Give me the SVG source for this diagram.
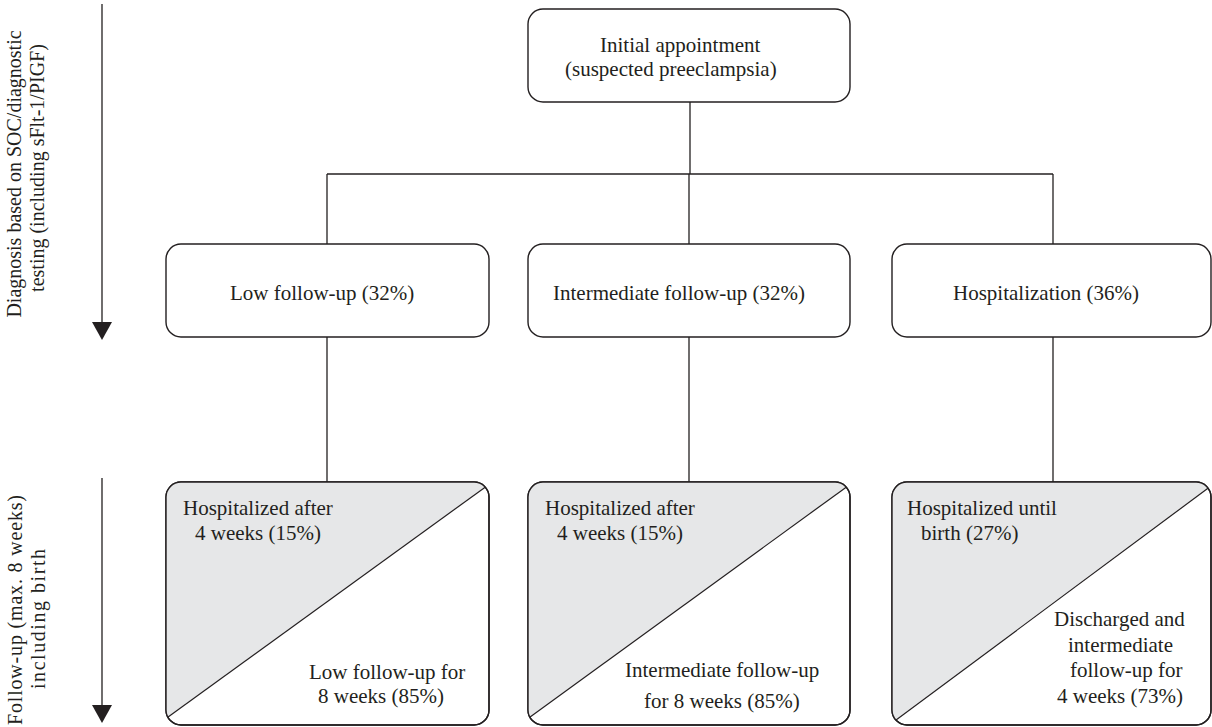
<svg xmlns="http://www.w3.org/2000/svg" width="1212" height="727" viewBox="0 0 1212 727">
<style>
text{font-family:"Liberation Serif","Times New Roman",serif;font-size:21px;fill:#231f20}
.side{font-size:20px}
.box{fill:#fff;stroke:#231f20;stroke-width:1.4}
.shade{fill:#e6e7e8}
.diag{stroke:#231f20;stroke-width:1.2;fill:none}
.conn line{stroke:#231f20;stroke-width:1.3}
</style>
<defs>
<clipPath id="c1"><rect x="166" y="482" width="323" height="243" rx="15"/></clipPath>
<clipPath id="c2"><rect x="528" y="482" width="322" height="243" rx="15"/></clipPath>
<clipPath id="c3"><rect x="892" y="482" width="319" height="243" rx="15"/></clipPath>
</defs>
<rect width="1212" height="727" fill="#fff"/>

<g id="axes">
<line x1="102" y1="4" x2="102" y2="324" stroke="#231f20" stroke-width="1.3"/>
<polygon points="92,322 112,322 102,340" fill="#231f20"/>
<line x1="102" y1="478" x2="102" y2="707" stroke="#231f20" stroke-width="1.3"/>
<polygon points="92,705 112,705 102,723" fill="#231f20"/>
<text class="side" transform="translate(21,174) rotate(-90)" text-anchor="middle">Diagnosis based on SOC/diagnostic</text>
<text class="side" transform="translate(44,168) rotate(-90)" text-anchor="middle">testing (including sFlt-1/PIGF)</text>
<text class="side" transform="translate(22,610) rotate(-90)" text-anchor="middle" textLength="230" lengthAdjust="spacing">Follow-up (max. 8 weeks)</text>
<text class="side" transform="translate(45,619) rotate(-90)" text-anchor="middle" textLength="140" lengthAdjust="spacing">including birth</text>
</g>

<g class="conn" id="connectors">
<line x1="690" y1="102" x2="690" y2="174"/>
<line x1="327" y1="174" x2="1053" y2="174"/>
<line x1="327" y1="174" x2="327" y2="244"/>
<line x1="689" y1="174" x2="689" y2="244"/>
<line x1="1053" y1="174" x2="1053" y2="244"/>
<line x1="327" y1="337" x2="327" y2="482"/>
<line x1="689" y1="337" x2="689" y2="482"/>
<line x1="1053" y1="337" x2="1053" y2="482"/>
</g>

<g id="initial">
<rect class="box" x="528" y="9" width="322" height="93" rx="15"/>
<text x="600" y="52">Initial appointment</text>
<text x="565" y="76">(suspected preeclampsia)</text>
</g>

<g id="low">
<rect class="box" x="166" y="244" width="323" height="93" rx="15"/>
<text x="230" y="300">Low follow-up (32%)</text>
</g>
<g id="intermediate">
<rect class="box" x="528" y="244" width="322" height="93" rx="15"/>
<text x="553" y="300">Intermediate follow-up (32%)</text>
</g>
<g id="hospitalization">
<rect class="box" x="892" y="244" width="319" height="93" rx="15"/>
<text x="953" y="300">Hospitalization (36%)</text>
</g>

<g id="low-outcome">
<rect class="box" x="166" y="482" width="323" height="243" rx="15"/>
<g clip-path="url(#c1)">
<polygon class="shade" points="166,482 489,482 489,484.4 166,718.5"/>
<line class="diag" x1="166" y1="718.5" x2="489" y2="484.4"/>
</g>
<rect x="166" y="482" width="323" height="243" rx="15" fill="none" stroke="#231f20" stroke-width="1.4"/>
<text x="183" y="515">Hospitalized after</text>
<text x="195" y="540">4 weeks (15%)</text>
<text x="309" y="679">Low follow-up for</text>
<text x="318" y="703">8 weeks (85%)</text>
</g>

<g id="intermediate-outcome">
<rect class="box" x="528" y="482" width="322" height="243" rx="15"/>
<g clip-path="url(#c2)">
<polygon class="shade" points="528,482 850,482 850,484.4 528,718.5"/>
<line class="diag" x1="528" y1="718.5" x2="850" y2="484.4"/>
</g>
<rect x="528" y="482" width="322" height="243" rx="15" fill="none" stroke="#231f20" stroke-width="1.4"/>
<text x="545" y="515">Hospitalized after</text>
<text x="557" y="540">4 weeks (15%)</text>
<text x="625" y="677">Intermediate follow-up</text>
<text x="644" y="708">for 8 weeks (85%)</text>
</g>

<g id="hospitalization-outcome">
<rect class="box" x="892" y="482" width="319" height="243" rx="15"/>
<g clip-path="url(#c3)">
<polygon class="shade" points="892,482 1211,482 1211,486 892,723"/>
<line class="diag" x1="892" y1="723" x2="1211" y2="486"/>
</g>
<rect x="892" y="482" width="319" height="243" rx="15" fill="none" stroke="#231f20" stroke-width="1.4"/>
<text x="907" y="515">Hospitalized until</text>
<text x="921" y="540">birth (27%)</text>
<text x="1054" y="626">Discharged and</text>
<text x="1068" y="652">intermediate</text>
<text x="1070" y="677">follow-up for</text>
<text x="1057" y="703">4 weeks (73%)</text>
</g>
</svg>
